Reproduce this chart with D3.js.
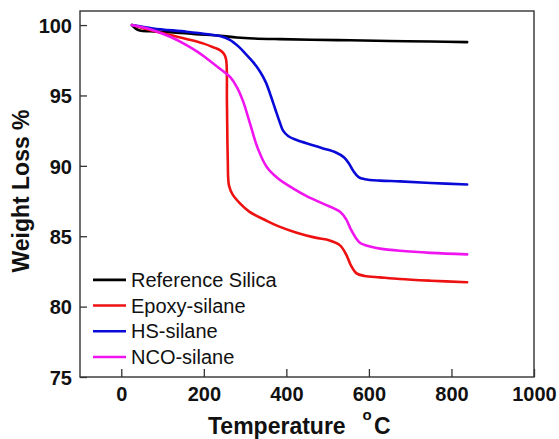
<!DOCTYPE html>
<html>
<head>
<meta charset="utf-8">
<script src="https://cdn.jsdelivr.net/npm/d3@7"></script>
<style>
  body { margin: 0; background: #fff; }
  svg text { font-family: Arial, "Liberation Sans", sans-serif; }
</style>
</head>
<body>
<div id="chart"></div>
<script>
// TGA curves, temperature (°C) vs weight (%)
const seriesNames = ["Reference Silica", "Epoxy-silane", "HS-silane", "NCO-silane"];
const seriesColors = ["#000000", "#ee1111", "#0a0ad8", "#f014f0"];

const refSilica = [
  [26, 100], [35, 99.75], [45, 99.62], [70, 99.56], [118, 99.5], [180, 99.36], [239, 99.24],
  [280, 99.12], [320, 99.05], [384, 99.0], [460, 98.96], [554, 98.92], [650, 98.87], [750, 98.83], [838, 98.79]
];
const epoxySilane = [
  [26, 100], [60, 99.72], [118, 99.29], [160, 99.0], [198, 98.7], [225, 98.4], [239, 98.22], [249, 97.95],
  [254, 97.55], [256, 94.5], [258, 90.5], [261, 88.6], [270, 87.95], [287, 87.35], [310, 86.75], [352, 86.1],
  [380, 85.72], [425, 85.25], [470, 84.9], [505, 84.7], [530, 84.35], [545, 83.7], [556, 82.95], [570, 82.36],
  [590, 82.18], [627, 82.08], [675, 81.96], [750, 81.84], [838, 81.73]
];
const hsSilane = [
  [26, 100], [77, 99.76], [158, 99.53], [210, 99.35], [239, 99.22], [263, 98.95], [285, 98.45], [303, 97.9],
  [320, 97.35], [336, 96.7], [350, 95.95], [362, 95.0], [374, 93.95], [384, 93.1], [392, 92.5], [405, 92.1],
  [425, 91.83], [460, 91.5], [489, 91.24], [520, 90.95], [540, 90.6], [552, 90.15], [562, 89.65], [575, 89.2],
  [590, 89.05], [627, 88.95], [675, 88.9], [750, 88.78], [838, 88.68]
];
const ncoSilane = [
  [26, 100], [77, 99.64], [120, 99.15], [158, 98.58], [185, 98.1], [207, 97.63], [239, 96.9], [263, 96.33],
  [280, 95.6], [295, 94.6], [312, 93.0], [330, 91.3], [352, 89.94], [380, 89.1], [416, 88.4], [449, 87.85],
  [490, 87.3], [530, 86.74], [545, 86.2], [556, 85.5], [568, 84.9], [580, 84.5], [605, 84.25], [627, 84.12],
  [675, 83.97], [750, 83.82], [838, 83.71]
];
const seriesData = [refSilica, epoxySilane, hsSilane, ncoSilane];

const xTicks = [0, 200, 400, 600, 800, 1000];
const yTicks = [75, 80, 85, 90, 95, 100];

const W = 559, H = 439;
const margin = { top: 11, right: 25, bottom: 62, left: 80 };
const width = W - margin.left - margin.right,
      height = H - margin.top - margin.bottom;

const svg = d3.select("#chart").append("svg")
    .attr("width", W)
    .attr("height", H);

const g = svg.append("g")
    .attr("transform", "translate(" + margin.left + "," + margin.top + ")");

const x = d3.scaleLinear().domain([-100, 1000]).range([0, width]);
const y = d3.scaleLinear().domain([75, 101]).range([height, 0]);

const line = d3.line()
    .x(d => x(d[0]))
    .y(d => y(d[1]))
    .curve(d3.curveCatmullRom.alpha(0.5));

seriesData.forEach((s, i) => {
  g.append("path")
      .datum(s)
      .attr("d", line)
      .attr("fill", "none")
      .attr("stroke", seriesColors[i])
      .attr("stroke-width", 2.6)
      .attr("stroke-linejoin", "round")
      .attr("stroke-linecap", "round");
});

// axes with inward ticks
const xAxis = g.append("g")
    .attr("transform", "translate(0," + height + ")")
    .call(d3.axisBottom(x).tickValues(xTicks).tickFormat(d3.format("d"))
      .tickSizeInner(-8).tickSizeOuter(0).tickPadding(10));
const yAxis = g.append("g")
    .call(d3.axisLeft(y).tickValues(yTicks).tickSizeInner(-7).tickSizeOuter(0).tickPadding(8));

[xAxis, yAxis].forEach(a => {
  a.select(".domain").remove();
  a.selectAll(".tick line").attr("stroke", "#333").attr("stroke-width", 1.3);
  a.selectAll(".tick text")
      .attr("fill", "#111")
      .style("font-size", "20px")
      .style("font-weight", "bold");
});
xAxis.selectAll(".tick text").attr("dy", "0.71em");
yAxis.selectAll(".tick text").attr("dy", "0.36em");

// frame
g.append("rect")
    .attr("width", width)
    .attr("height", height)
    .attr("fill", "none")
    .attr("stroke", "#333")
    .attr("stroke-width", 1.4);

// legend
const legend = g.append("g").attr("transform", "translate(13," + (y(81.9)) + ")");
seriesNames.forEach((name, i) => {
  const row = legend.append("g").attr("transform", "translate(0," + (i * 25.7) + ")");
  row.append("line")
      .attr("x1", 0).attr("x2", 33)
      .attr("stroke", seriesColors[i])
      .attr("stroke-width", 2.6);
  row.append("text")
      .attr("x", 38)
      .attr("dy", "0.36em")
      .style("font-size", "20px")
      .attr("fill", "#111")
      .text(name);
});

// axis titles
svg.append("text")
    .attr("x", 208)
    .attr("y", 434)
    .style("font-size", "23px")
    .style("font-weight", "bold")
    .attr("fill", "#111")
    .text("Temperature");
svg.append("text")
    .attr("x", 367)
    .attr("y", 420)
    .attr("text-anchor", "middle")
    .style("font-size", "15px")
    .style("font-weight", "bold")
    .attr("fill", "#111")
    .text("o");
svg.append("text")
    .attr("x", 374)
    .attr("y", 434)
    .style("font-size", "23px")
    .style("font-weight", "bold")
    .attr("fill", "#111")
    .text("C");

svg.append("text")
    .attr("transform", "translate(29," + 191 + ") rotate(-90)")
    .attr("text-anchor", "middle")
    .style("font-size", "23px")
    .style("font-weight", "bold")
    .attr("fill", "#111")
    .text("Weight Loss %");
</script>
</body>
</html>
